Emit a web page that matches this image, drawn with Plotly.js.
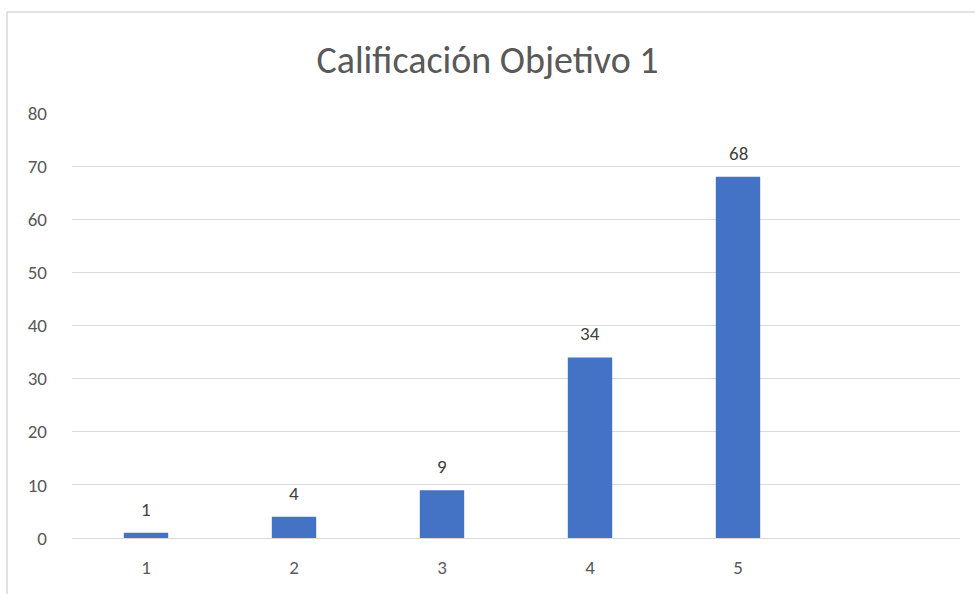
<!DOCTYPE html>
<html>
<head>
<meta charset="utf-8">
<script src="https://cdn.plot.ly/plotly-3.0.1.min.js"></script>
<style>
html,body{margin:0;padding:0;background:#fff;}
#chart{width:975px;height:594px;}
</style>
</head>
<body>
<div id="chart"></div>
<script>
const categories = ['1', '2', '3', '4', '5'];
const values = [1, 4, 9, 34, 68];
const yTicks = [0, 10, 20, 30, 40, 50, 60, 70, 80];
const chartTitle = 'Calificación Objetivo 1';

const FONT = 'Carlito, "Liberation Sans Narrow", "Open Sans", sans-serif';

const trace = {
  type: 'bar',
  x: categories,
  y: values,
  marker: {color: '#4472C4'},
  hoverinfo: 'x+y'
};

const annotations = categories.map((c, i) => ({
  x: i, y: values[i], xref: 'x', yref: 'y',
  text: String(values[i]), showarrow: false,
  yanchor: 'bottom', yshift: 10,
  font: {family: FONT, size: 19, color: '#404040'}
}));

const layout = {
  width: 975, height: 594,
  margin: {l: 72, r: 15, t: 113, b: 56},
  paper_bgcolor: '#fff', plot_bgcolor: '#fff',
  bargap: 0.7,
  showlegend: false,
  title: {
    text: chartTitle,
    x: 0.5, xref: 'container', xanchor: 'center',
    y: 1 - 60 / 594, yref: 'container', yanchor: 'middle',
    font: {family: FONT, size: 38, color: '#595959'}
  },
  xaxis: {
    type: 'category',
    range: [-0.5, 5.5],
    showgrid: false, zeroline: false,
    showline: false,
    ticks: '', ticklen: 0,
    ticklabelstandoff: 16,
    tickfont: {family: FONT, size: 19, color: '#595959'},
    fixedrange: true
  },
  yaxis: {
    range: [0, 80],
    tickvals: yTicks,
    ticktext: yTicks.map(String),
    showgrid: true, gridcolor: '#d9d9d9', gridwidth: 1,
    zeroline: true, zerolinecolor: '#d9d9d9', zerolinewidth: 1,
    showline: false, ticks: '',
    ticklabelstandoff: 24,
    tickfont: {family: FONT, size: 19, color: '#595959'},
    fixedrange: true
  },
  annotations: annotations,
  shapes: [
    {type: 'line', xref: 'paper', yref: 'paper', x0: (7 - 72) / 888, x1: 1.2, y0: (538 - 12) / 425, y1: (538 - 12) / 425, line: {color: '#d9d9d9', width: 1.5}},
    {type: 'line', xref: 'paper', yref: 'paper', x0: (7 - 72) / 888, x1: (7 - 72) / 888, y0: (538 - 12) / 425, y1: -0.3, line: {color: '#d9d9d9', width: 1.5}}
  ]
};

Plotly.newPlot('chart', [trace], layout, {displayModeBar: false, staticPlot: true});
</script>
</body>
</html>
